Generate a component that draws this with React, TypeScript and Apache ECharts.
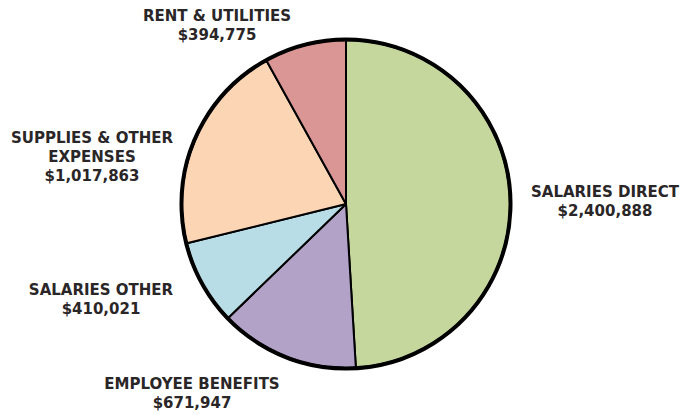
import React, { useEffect, useRef } from "react";
import * as echarts from "echarts";

const categories = [
  "SALARIES DIRECT",
  "EMPLOYEE BENEFITS",
  "SALARIES OTHER",
  "SUPPLIES & OTHER\nEXPENSES",
  "RENT & UTILITIES",
];
const values = [2400888, 671947, 410021, 1017863, 394775];
const colors = ["#c5d79d", "#b3a2c8", "#b9dde6", "#fcd5b5", "#d99694"];
const labelPos: [number, number][] = [
  [605, 201.5],
  [192, 393.5],
  [101, 299.5],
  [92, 157],
  [217, 25.5],
];

const fmt = (v: number) => "$" + v.toLocaleString("en-US");

export default function App() {
  const ref = useRef<HTMLDivElement>(null);
  useEffect(() => {
    document.body.style.margin = "0";
    const chart = echarts.init(ref.current!, null, { renderer: "svg" });
    chart.setOption({
      animation: false,
      backgroundColor: "#ffffff",
      series: [
        {
          type: "pie",
          center: [346, 204],
          radius: [0, 164],
          startAngle: 90,
          clockwise: true,
          silent: true,
          itemStyle: { borderColor: "#000", borderWidth: 2 },
          label: {
            show: true,
            formatter: (p: any) => p.name + "\n" + fmt(p.value),
            color: "#2a2627",
            fontFamily: "DejaVu Sans",
            fontWeight: "bold",
            fontSize: 15,
            lineHeight: 19,
            align: "center",
            overflow: "none",
            width: 300,
          },
          labelLine: { show: false },
          labelLayout: (params: any) => {
            const p = labelPos[params.dataIndex];
            return { x: p[0], y: p[1], align: "center", verticalAlign: "middle" };
          },
          data: categories.map((c, i) => ({
            name: c,
            value: values[i],
            itemStyle: { color: colors[i] },
          })),
        },
        {
          type: "pie",
          center: [346, 204],
          radius: [0, 164.5],
          silent: true,
          label: { show: false },
          labelLine: { show: false },
          itemStyle: { color: "rgba(0,0,0,0)", borderColor: "#000", borderWidth: 4 },
          data: [{ value: 1, name: "outline" }],
        },
      ],
    });
    return () => chart.dispose();
  }, []);
  return <div ref={ref} style={{ width: 694, height: 415 }} />;
}
